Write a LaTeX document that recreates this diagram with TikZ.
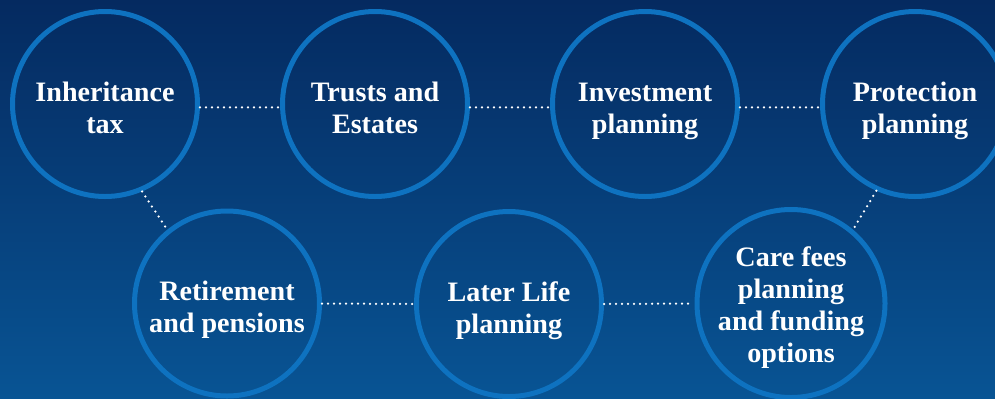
\documentclass[tikz,border=0pt]{standalone}
\usepackage{fontspec}
\setmainfont{Liberation Serif}
\usepackage{tikz}
\usepackage{xcolor}
\usetikzlibrary{calc, positioning}

\definecolor{bgtop}{HTML}{052A60}
\definecolor{bgbottom}{HTML}{085494}
\definecolor{ringblue}{HTML}{0E72C0}

\tikzset{
    topic/.style={circle, draw=ringblue, line width=0.1cm, minimum size=3.7cm, inner sep=0pt,
        align=center, text=white, font=\fontsize{16}{18.2}\selectfont\bfseries,
        text height=1.16cm, text depth=0pt},
    link/.style={draw=white, line width=0.05cm, line cap=round, dash pattern=on 0pt off 0.12cm,
        shorten >=0.06cm}
}

\begin{document}
\begin{tikzpicture}
                        \shade[top color=bgtop, bottom color=bgbottom] (0, 0) rectangle (19.9, -7.96);
                        \useasboundingbox (0, 0) rectangle (19.9, -7.96);
                        \node[topic] (inh) at (2.1, -2.08) {Inheritance\\tax};
                        \node[topic] (trusts) at (7.5, -2.08) {Trusts and\\Estates};
                        \node[topic] (invest) at (12.9, -2.08) {Investment\\planning};
                        \node[topic] (prot) at (18.3, -2.08) {Protection\\planning};
                        \node[topic] (ret) at (4.54, -6.07) {Retirement\\and pensions};
                        \node[topic] (later) at (10.18, -6.08) {Later Life\\planning};
                        \node[topic, text height=2.36cm] (care) at (15.82, -6.07) {Care fees\\planning\\and funding\\options};
                        \draw[link]
                        (inh.-2) -- (trusts.182)
                        (trusts.-2) -- (invest.182)
                        (invest.-2) -- (prot.182)
                        (inh.-67) -- (ret.129)
                        (prot.-114) -- (care.50)
                        (ret.east) -- (later.west)
                        (later.east) -- (care.west);
                    \end{tikzpicture}
\end{document}
